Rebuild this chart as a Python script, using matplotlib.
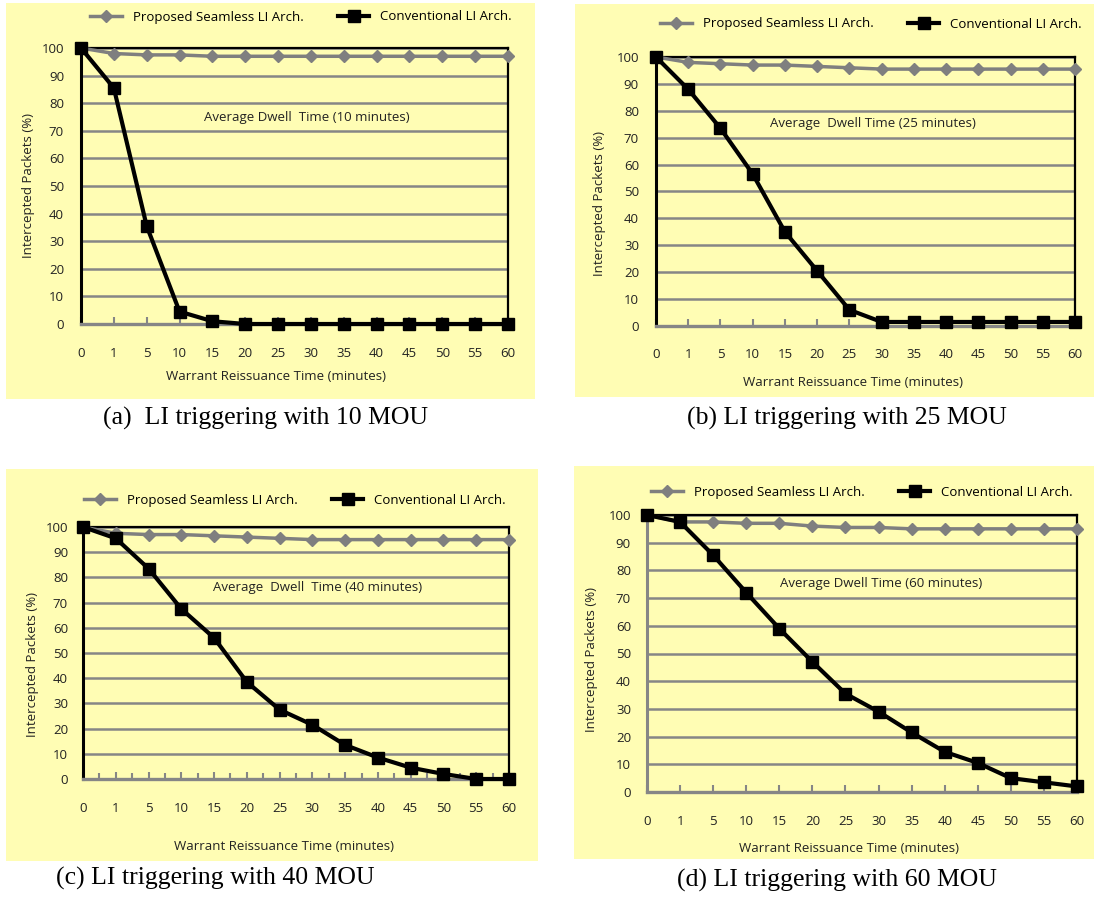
import matplotlib
matplotlib.use('Agg')
import matplotlib.pyplot as plt
from matplotlib.patches import Rectangle
import numpy as np

# ---------------- data ----------------
x_labels = ['0', '1', '5', '10', '15', '20', '25', '30', '35', '40', '45', '50', '55', '60']

proposed_10 = [100, 98, 97.5, 97.5, 97, 97, 97, 97, 97, 97, 97, 97, 97, 97]
conventional_10 = [100, 85.5, 35.5, 4.5, 1, 0, 0, 0, 0, 0, 0, 0, 0, 0]

proposed_25 = [100, 98, 97.5, 97, 97, 96.5, 96, 95.5, 95.5, 95.5, 95.5, 95.5, 95.5, 95.5]
conventional_25 = [100, 88, 73.5, 56.5, 35, 20.5, 6, 1.5, 1.5, 1.5, 1.5, 1.5, 1.5, 1.5]

proposed_40 = [100, 97.5, 97, 97, 96.5, 96, 95.5, 95, 95, 95, 95, 95, 95, 95]
conventional_40 = [100, 95.5, 83.5, 67.5, 56, 38.5, 27.5, 21.5, 13.5, 8.5, 4.5, 2, 0, 0]

proposed_60 = [100, 97.5, 97.5, 97, 97, 96, 95.5, 95.5, 95, 95, 95, 95, 95, 95]
conventional_60 = [100, 97.5, 85.5, 72, 59, 47, 35.5, 29, 21.5, 14.5, 10.5, 5, 3.5, 2]

series_names = ['Proposed Seamless LI Arch.', 'Conventional LI Arch.']
notes = ['Average Dwell  Time (10 minutes)', 'Average  Dwell Time (25 minutes)',
         'Average  Dwell  Time (40 minutes)', 'Average Dwell Time (60 minutes)']
captions = ['(a)  LI triggering with 10 MOU', '(b) LI triggering with 25 MOU',
            '(c) LI triggering with 40 MOU', '(d) LI triggering with 60 MOU']
x_title = 'Warrant Reissuance Time (minutes)'
y_title = 'Intercepted Packets (%)'

# ---------------- layout (pixels) ----------------
W, H = 1096, 897
fig = plt.figure(figsize=(W / 100, H / 100), dpi=100)
fig.patch.set_facecolor('white')


def fx(x):
    return x / W


def fy(y):
    return 1 - y / H


YELLOW = '#FFFDB4'
GRID = '#868686'
LGRAY = '#7f7f7f'
FONT = ['Open Sans', 'DejaVu Sans']
FS = 9.5

panels = [
    dict(bg=(6, 3, 535, 399), ax=(81, 508, 48, 324), legend=(301, 17), ylab=(29, 185),
         xlab=(276, 377), note=(307, 117), cap=(266, 418), left='black', minor=False,
         xpad=30, ypad=17, data=(proposed_10, conventional_10)),
    dict(bg=(575, 4, 1094, 397), ax=(656, 1075, 57, 326), legend=(871, 24), ylab=(599, 203),
         xlab=(853, 382), note=(873, 124), cap=(847, 418), left='black', minor=False,
         xpad=29, ypad=17, data=(proposed_25, conventional_25)),
    dict(bg=(6, 469, 538, 861), ax=(83, 509, 527, 779), legend=(295, 500), ylab=(33, 664),
         xlab=(284, 846), note=(318, 588), cap=(215, 878), left='black', minor=True,
         xpad=30, ypad=15, data=(proposed_40, conventional_40)),
    dict(bg=(574, 466, 1094, 859), ax=(647, 1077, 515, 792), legend=(862, 492), ylab=(592, 660),
         xlab=(849, 848), note=(881, 583), cap=(837, 880), left=GRID, minor=False,
         xpad=30, ypad=16, data=(proposed_60, conventional_60)),
]

idx = np.arange(len(x_labels))

for i, p in enumerate(panels):
    x0, y0, x1, y1 = p['bg']
    fig.add_artist(Rectangle((fx(x0), fy(y1)), (x1 - x0) / W, (y1 - y0) / H,
                             transform=fig.transFigure, facecolor=YELLOW,
                             edgecolor='none', zorder=0))
    l, r, t, b = p['ax']
    ax = fig.add_axes([fx(l), fy(b), (r - l) / W, (b - t) / H])
    ax.set_facecolor('none')
    ax.set_xlim(0, len(x_labels) - 1)
    ax.set_ylim(0, 100)
    ax.set_yticks(range(0, 101, 10))
    ax.set_xticks(idx)
    ax.set_xticklabels(x_labels)
    ax.yaxis.grid(True, color=GRID, lw=1.8)
    ax.set_axisbelow(True)

    prop, conv = p['data']
    h1, = ax.plot(idx, prop, color=LGRAY, lw=2.5, marker='D', ms=6.5,
                  mfc=LGRAY, mec=LGRAY, clip_on=False, zorder=4)
    h2, = ax.plot(idx, conv, color='black', lw=3.0, marker='s', ms=8.5,
                  mfc='black', mec='black', clip_on=False, zorder=5)

    ax.spines['top'].set_color('black')
    ax.spines['top'].set_linewidth(1.6)
    ax.spines['right'].set_color('black')
    ax.spines['right'].set_linewidth(1.6)
    ax.spines['left'].set_color(p['left'])
    ax.spines['left'].set_linewidth(2.2)
    ax.spines['bottom'].set_color(GRID)
    ax.spines['bottom'].set_linewidth(2.4)

    ax.tick_params(axis='y', length=0, pad=p['ypad'] * 0.72, labelsize=FS, labelcolor='#222222')
    ax.tick_params(axis='x', direction='in', length=5, width=1.5, color=GRID,
                   pad=(p['xpad'] - 7) * 0.72, labelsize=FS, labelcolor='#222222')
    if p['minor']:
        ax.set_xticks(idx[:-1] + 0.5, minor=True)
        ax.tick_params(axis='x', which='minor', direction='in', length=4, width=1.5, color=GRID)
    for lab in ax.get_xticklabels() + ax.get_yticklabels():
        lab.set_family(FONT)

    cx, cy = p['legend']
    ax.legend([h1, h2], series_names, loc='center', bbox_to_anchor=(fx(cx), fy(cy)),
              bbox_transform=fig.transFigure, ncol=2, frameon=False, handlelength=2.4,
              handletextpad=0.8, columnspacing=2.6, prop={'family': FONT, 'size': FS})

    fig.text(fx(p['ylab'][0]), fy(p['ylab'][1]), y_title, rotation=90, ha='center',
             va='center', family=FONT, fontsize=FS, color='#222222')
    fig.text(fx(p['xlab'][0]), fy(p['xlab'][1]), x_title, ha='center', va='center',
             family=FONT, fontsize=FS, color='#222222')
    fig.text(fx(p['note'][0]), fy(p['note'][1]), notes[i], ha='center', va='center',
             family=FONT, fontsize=FS, color='#222222')
    fig.text(fx(p['cap'][0]), fy(p['cap'][1]), captions[i], ha='center', va='center',
             family=['Liberation Serif', 'DejaVu Serif'], fontsize=18.5, color='black')

fig.savefig('out.png', dpi=100, facecolor='white')
